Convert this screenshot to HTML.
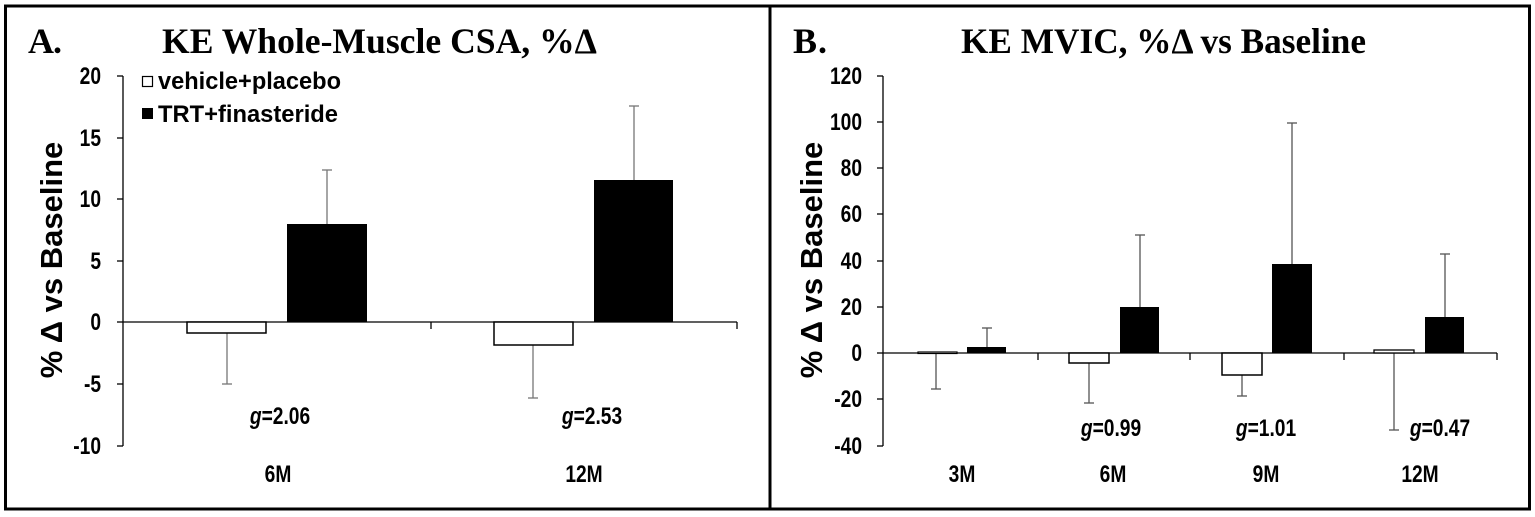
<!DOCTYPE html>
<html><head><meta charset="utf-8"><style>
html,body{margin:0;padding:0;background:#fff;}
svg{display:block;}
.t{font-family:"Liberation Serif",serif;font-weight:bold;font-size:36px;}
.k{font-family:"Liberation Sans",sans-serif;font-weight:bold;font-size:24px;}
.y{font-family:"Liberation Sans",sans-serif;font-weight:bold;font-size:31px;}
</style></head><body>
<svg width="1535" height="517" viewBox="0 0 1535 517" xmlns="http://www.w3.org/2000/svg">
<rect x="5.5" y="6" width="1524" height="503" fill="none" stroke="#000" stroke-width="3"/>
<line x1="770" y1="6" x2="770" y2="509" stroke="#000" stroke-width="3"/>

<!-- Panel A -->
<text class="t" x="28" y="53" textLength="34">A.</text>
<text class="t" x="162" y="53" textLength="435" lengthAdjust="spacingAndGlyphs">KE Whole-Muscle CSA, %Δ</text>
<text class="y" transform="translate(62,260) rotate(-90)" text-anchor="middle">% Δ vs Baseline</text>
<g stroke="#000" stroke-width="1.3">
<line x1="123" y1="76" x2="123" y2="446"/>
<line x1="117" y1="76" x2="123" y2="76"/><line x1="117" y1="138" x2="123" y2="138"/>
<line x1="117" y1="199" x2="123" y2="199"/><line x1="117" y1="261" x2="123" y2="261"/>
<line x1="117" y1="322" x2="123" y2="322"/><line x1="117" y1="384" x2="123" y2="384"/>
<line x1="117" y1="446" x2="123" y2="446"/>
<line x1="123" y1="322" x2="737" y2="322"/>
<line x1="431" y1="322" x2="431" y2="329"/><line x1="737" y1="322" x2="737" y2="329"/>
</g>
<g class="k" text-anchor="end">
<text transform="translate(101,84) scale(0.8,1)">20</text><text transform="translate(101,146) scale(0.8,1)">15</text><text transform="translate(101,207) scale(0.8,1)">10</text>
<text transform="translate(101,269) scale(0.8,1)">5</text><text transform="translate(101,330) scale(0.8,1)">0</text><text transform="translate(101,392) scale(0.8,1)">-5</text>
<text transform="translate(101,454) scale(0.8,1)">-10</text>
</g>
<g stroke="#777" stroke-width="1.3">
<line x1="227" y1="333" x2="227" y2="384"/><line x1="222" y1="384" x2="232" y2="384"/>
<line x1="327" y1="224" x2="327" y2="170"/><line x1="322" y1="170" x2="332" y2="170"/>
<line x1="533" y1="345" x2="533" y2="398"/><line x1="528" y1="398" x2="538" y2="398"/>
<line x1="634" y1="180" x2="634" y2="106"/><line x1="629" y1="106" x2="639" y2="106"/>
</g>
<rect x="187" y="322" width="79" height="11" fill="#fff" stroke="#000" stroke-width="1.5"/>
<rect x="287" y="224" width="80" height="98" fill="#000"/>
<rect x="494" y="322" width="79" height="23" fill="#fff" stroke="#000" stroke-width="1.5"/>
<rect x="594" y="180" width="79" height="142" fill="#000"/>
<rect x="142.5" y="76.5" width="10" height="10" fill="#fff" stroke="#000" stroke-width="1.2"/>
<text class="k" x="158" y="89" textLength="183" lengthAdjust="spacingAndGlyphs">vehicle+placebo</text>
<rect x="142" y="108" width="11" height="11" fill="#000"/>
<text class="k" x="158" y="122" textLength="180" lengthAdjust="spacingAndGlyphs">TRT+finasteride</text>
<g class="k" text-anchor="middle">
<text transform="translate(280,424) scale(0.8,1)"><tspan font-style="italic">g</tspan>=2.06</text>
<text transform="translate(592,424) scale(0.8,1)"><tspan font-style="italic">g</tspan>=2.53</text>
<text transform="translate(278,482) scale(0.8,1)">6M</text><text transform="translate(584,482) scale(0.8,1)">12M</text>
</g>

<!-- Panel B -->
<text class="t" x="793" y="53" textLength="34">B.</text>
<text class="t" x="961" y="53" textLength="405" lengthAdjust="spacingAndGlyphs">KE MVIC, %Δ vs Baseline</text>
<text class="y" transform="translate(822,260) rotate(-90)" text-anchor="middle">% Δ vs Baseline</text>
<g stroke="#000" stroke-width="1.3">
<line x1="883" y1="76" x2="883" y2="446"/>
<line x1="877" y1="76" x2="883" y2="76"/><line x1="877" y1="122" x2="883" y2="122"/>
<line x1="877" y1="168" x2="883" y2="168"/><line x1="877" y1="214" x2="883" y2="214"/>
<line x1="877" y1="261" x2="883" y2="261"/><line x1="877" y1="307" x2="883" y2="307"/>
<line x1="877" y1="353" x2="883" y2="353"/><line x1="877" y1="399" x2="883" y2="399"/>
<line x1="877" y1="446" x2="883" y2="446"/>
<line x1="883" y1="353" x2="1497" y2="353"/>
<line x1="1038" y1="353" x2="1038" y2="360"/><line x1="1190" y1="353" x2="1190" y2="360"/>
<line x1="1344" y1="353" x2="1344" y2="360"/><line x1="1497" y1="353" x2="1497" y2="360"/>
</g>
<g class="k" text-anchor="end">
<text transform="translate(862,84) scale(0.8,1)">120</text><text transform="translate(862,130) scale(0.8,1)">100</text><text transform="translate(862,176) scale(0.8,1)">80</text>
<text transform="translate(862,222) scale(0.8,1)">60</text><text transform="translate(862,269) scale(0.8,1)">40</text><text transform="translate(862,315) scale(0.8,1)">20</text>
<text transform="translate(862,361) scale(0.8,1)">0</text><text transform="translate(862,407) scale(0.8,1)">-20</text><text transform="translate(862,454) scale(0.8,1)">-40</text>
</g>
<g stroke="#555" stroke-width="1.3">
<line x1="936" y1="353" x2="936" y2="389"/><line x1="931" y1="389" x2="941" y2="389"/>
<line x1="987" y1="347" x2="987" y2="328"/><line x1="982" y1="328" x2="992" y2="328"/>
<line x1="1089" y1="363" x2="1089" y2="403"/><line x1="1084" y1="403" x2="1094" y2="403"/>
<line x1="1140" y1="307" x2="1140" y2="235"/><line x1="1135" y1="235" x2="1145" y2="235"/>
<line x1="1242" y1="375" x2="1242" y2="396"/><line x1="1237" y1="396" x2="1247" y2="396"/>
<line x1="1292" y1="264" x2="1292" y2="123"/><line x1="1287" y1="123" x2="1297" y2="123"/>
<line x1="1394" y1="351" x2="1394" y2="430"/><line x1="1389" y1="430" x2="1399" y2="430"/>
<line x1="1445" y1="317" x2="1445" y2="254"/><line x1="1440" y1="254" x2="1450" y2="254"/>
</g>
<rect x="918" y="352" width="39" height="1.5" fill="#fff" stroke="#000" stroke-width="1.2"/>
<rect x="967" y="347" width="39" height="6" fill="#000"/>
<rect x="1069" y="353" width="40" height="10" fill="#fff" stroke="#000" stroke-width="1.5"/>
<rect x="1120" y="307" width="39" height="46" fill="#000"/>
<rect x="1222" y="353" width="40" height="22" fill="#fff" stroke="#000" stroke-width="1.5"/>
<rect x="1272" y="264" width="40" height="89" fill="#000"/>
<rect x="1374" y="350" width="40" height="3" fill="#fff" stroke="#000" stroke-width="1.3"/>
<rect x="1425" y="317" width="39" height="36" fill="#000"/>
<g class="k" text-anchor="middle">
<text transform="translate(1111,436) scale(0.8,1)"><tspan font-style="italic">g</tspan>=0.99</text>
<text transform="translate(1266,436) scale(0.8,1)"><tspan font-style="italic">g</tspan>=1.01</text>
<text transform="translate(1440,436) scale(0.8,1)"><tspan font-style="italic">g</tspan>=0.47</text>
<text transform="translate(962,482) scale(0.8,1)">3M</text><text transform="translate(1113,482) scale(0.8,1)">6M</text>
<text transform="translate(1266,482) scale(0.8,1)">9M</text><text transform="translate(1420,482) scale(0.8,1)">12M</text>
</g>
</svg>
</body></html>
